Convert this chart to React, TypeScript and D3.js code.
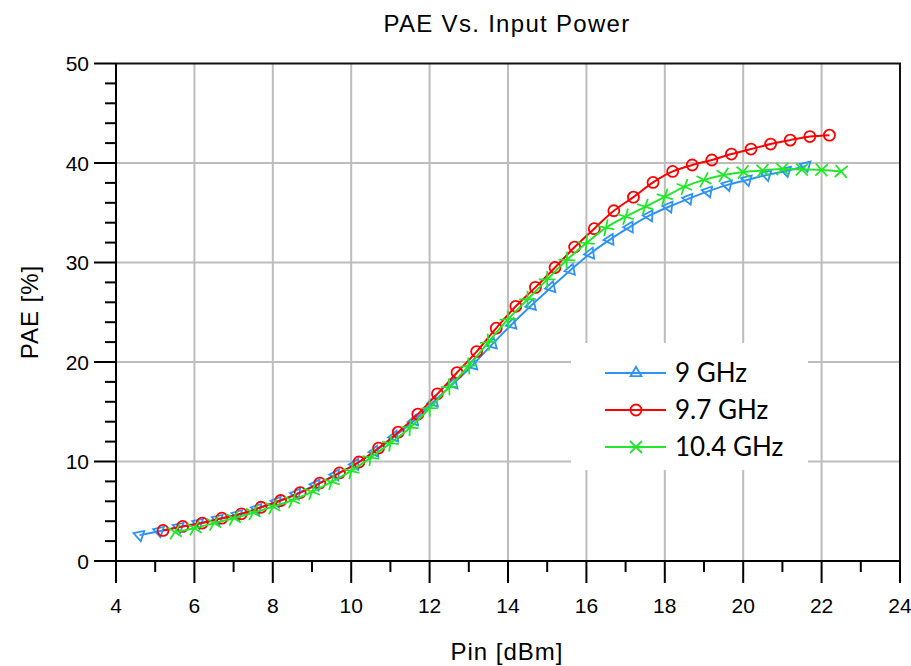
import React from 'react';
import * as d3 from 'd3';

// PAE readings, one array per frequency
const pin9 = [4.6, 5.1, 5.6, 6.1, 6.6, 7.1, 7.6, 8.1, 8.6, 9.1, 9.6, 10.1, 10.6, 11.1, 11.6, 12.1, 12.6, 13.1, 13.6, 14.1, 14.6, 15.1, 15.6, 16.1, 16.6, 17.1, 17.6, 18.1, 18.6, 19.1, 19.6, 20.1, 20.6, 21.1, 21.6];
const pae9 = [2.6, 3.0, 3.4, 3.8, 4.2, 4.65, 5.25, 5.95, 6.75, 7.65, 8.65, 9.7, 11.0, 12.5, 14.1, 16.0, 17.8, 19.7, 21.8, 23.8, 25.7, 27.5, 29.25, 30.9, 32.3, 33.55, 34.7, 35.6, 36.4, 37.15, 37.8, 38.3, 38.8, 39.2, 39.7];

const pin97 = [5.2, 5.7, 6.2, 6.7, 7.2, 7.7, 8.2, 8.7, 9.2, 9.7, 10.2, 10.7, 11.2, 11.7, 12.2, 12.7, 13.2, 13.7, 14.2, 14.7, 15.2, 15.7, 16.2, 16.7, 17.2, 17.7, 18.2, 18.7, 19.2, 19.7, 20.2, 20.7, 21.2, 21.7, 22.2];
const pae97 = [3.07, 3.47, 3.81, 4.3, 4.74, 5.4, 6.08, 6.88, 7.83, 8.85, 9.95, 11.35, 12.95, 14.76, 16.8, 18.94, 21.05, 23.4, 25.6, 27.5, 29.5, 31.55, 33.4, 35.2, 36.57, 38.05, 39.15, 39.8, 40.3, 40.9, 41.4, 41.9, 42.3, 42.66, 42.8];

const pin104 = [5.5, 6.0, 6.5, 7.0, 7.5, 8.0, 8.5, 9.0, 9.5, 10.0, 10.5, 11.0, 11.5, 12.0, 12.5, 13.0, 13.5, 14.0, 14.5, 15.0, 15.5, 16.0, 16.5, 17.0, 17.5, 18.0, 18.5, 19.0, 19.5, 20.0, 20.5, 21.0, 21.5, 22.0, 22.5];
const pae104 = [2.9, 3.3, 3.8, 4.3, 4.85, 5.45, 6.1, 6.95, 7.95, 9.05, 10.4, 11.85, 13.4, 15.35, 17.5, 19.6, 22.0, 24.3, 26.3, 28.3, 30.25, 31.95, 33.5, 34.6, 35.6, 36.6, 37.6, 38.3, 38.8, 39.1, 39.25, 39.4, 39.35, 39.3, 39.15];

const seriesNames = ['9 GHz', '9.7 GHz', '10.4 GHz'];
const xTicks = [4, 6, 8, 10, 12, 14, 16, 18, 20, 22, 24];
const yTicks = [0, 10, 20, 30, 40, 50];

const colors = ['#2f93f5', '#ff0000', '#22e62a'];
const markers = ['tri', 'circle', 'cross'];

const W = 911;
const H = 666;
const left = 116, right = 900, top = 63.5, bottom = 561;
const FONT = 'Liberation Sans, Arial, sans-serif';

const x = d3.scaleLinear().domain([4, 24]).range([left, right]);
const y = d3.scaleLinear().domain([0, 50]).range([bottom, top]);

const triPath = 'M-5.5,-3.2L5.5,-3.2L0,6.3Z';

function Marker({ kind, color, angle }: { kind: string; color: string; angle: number }) {
  const sw = 1.8;
  if (kind === 'circle') return <circle r={5.5} fill="none" stroke={color} strokeWidth={sw} />;
  if (kind === 'tri')
    return <path d={triPath} transform={`rotate(${angle})`} fill="none" stroke={color} strokeWidth={sw} strokeLinejoin="miter" />;
  return (
    <path d="M-6,-6L6,6M-6,6L6,-6" transform={`rotate(${angle})`} stroke={color} strokeWidth={sw} fill="none" />
  );
}

export default function App() {
  const data = [
    pin9.map((p, i) => [p, pae9[i]]),
    pin97.map((p, i) => [p, pae97[i]]),
    pin104.map((p, i) => [p, pae104[i]]),
  ] as [number, number][][];

  const line = d3
    .line<[number, number]>()
    .x((d) => x(d[0]))
    .y((d) => y(d[1]))
    .curve(d3.curveMonotoneX);

  const yMinor = d3.range(0, 50, 2).filter((v) => v % 10 !== 0);
  const xMinor = d3.range(5, 24, 2);

  const legendX = 605;
  const legendRows = [373, 410, 447];

  return (
    <svg width={W} height={H} style={{ position: 'absolute', left: 0, top: 0, background: '#fff' }}>
      <rect width={W} height={H} fill="#fff" />
      {/* grid */}
      {xTicks.slice(1, -1).map((t) => (
        <line key={'gx' + t} x1={x(t)} x2={x(t)} y1={top} y2={bottom} stroke="#bdbdbd" strokeWidth={2} />
      ))}
      {yTicks.slice(1, -1).map((t) => (
        <line key={'gy' + t} x1={left} x2={right} y1={y(t)} y2={y(t)} stroke="#bdbdbd" strokeWidth={2} />
      ))}
      {/* legend background hides grid */}
      <rect x={571} y={343} width={237} height={127} fill="#fff" />

      {/* frame */}
      <path d={`M${left},${top}H${right}V${bottom}`} fill="none" stroke="#111" strokeWidth={2} />
      <line x1={left} x2={left} y1={top} y2={bottom} stroke="#000" strokeWidth={2} />
      <line x1={left} x2={right} y1={bottom} y2={bottom} stroke="#000" strokeWidth={2} />

      {/* y ticks */}
      {yTicks.map((t) => (
        <g key={'yt' + t}>
          <line x1={left - 22} x2={left} y1={y(t)} y2={y(t)} stroke="#000" strokeWidth={2} />
          <text x={left - 27} y={y(t)} dy="0.36em" textAnchor="end" fontFamily={FONT} fontSize={21}>
            {t}
          </text>
        </g>
      ))}
      {yMinor.map((t) => (
        <line key={'ym' + t} x1={left - 11} x2={left} y1={y(t)} y2={y(t)} stroke="#000" strokeWidth={2} />
      ))}

      {/* x ticks */}
      {xTicks.map((t) => (
        <g key={'xt' + t}>
          <line x1={x(t)} x2={x(t)} y1={bottom} y2={bottom + 22} stroke="#000" strokeWidth={2} />
          <text x={x(t)} y={bottom + 52} textAnchor="middle" fontFamily={FONT} fontSize={21}>
            {t}
          </text>
        </g>
      ))}
      {xMinor.map((t) => (
        <line key={'xm' + t} x1={x(t)} x2={x(t)} y1={bottom} y2={bottom + 11} stroke="#000" strokeWidth={2} />
      ))}

      {/* series */}
      {data.map((pts, si) => (
        <g key={'s' + si}>
          <path d={line(pts) || ''} fill="none" stroke={colors[si]} strokeWidth={2} />
          {pts.map((d, i) => {
            const a = pts[Math.max(0, i - 1)];
            const b = pts[Math.min(pts.length - 1, i + 1)];
            const ang = (Math.atan2(y(b[1]) - y(a[1]), x(b[0]) - x(a[0])) * 180) / Math.PI;
            return (
              <g key={i} transform={`translate(${x(d[0])},${y(d[1])})`}>
                <Marker kind={markers[si]} color={colors[si]} angle={ang} />
              </g>
            );
          })}
        </g>
      ))}

      {/* legend */}
      {seriesNames.map((name, i) => (
        <g key={name}>
          <line x1={legendX} x2={legendX + 61} y1={legendRows[i]} y2={legendRows[i]} stroke={colors[i]} strokeWidth={2} />
          <g transform={`translate(${legendX + 31},${legendRows[i]})`}>
            <Marker kind={markers[i]} color={colors[i]} angle={i === 0 ? 180 : 0} />
          </g>
          <text x={legendX + 70} y={legendRows[i]} dy="0.36em" fontFamily="Lato, 'Open Sans', sans-serif" fontSize={26}>
            {name}
          </text>
        </g>
      ))}

      {/* titles */}
      <text x={507} y={32} textAnchor="middle" fontFamily={FONT} fontSize={24} letterSpacing={1.3}>
        PAE Vs. Input Power
      </text>
      <text x={507} y={660} textAnchor="middle" fontFamily={FONT} fontSize={24} letterSpacing={1}>
        Pin [dBm]
      </text>
      <text
        transform={`translate(38,312) rotate(-90)`}
        textAnchor="middle"
        fontFamily={FONT}
        fontSize={24}
        letterSpacing={1}
      >
        PAE [%]
      </text>
    </svg>
  );
}
